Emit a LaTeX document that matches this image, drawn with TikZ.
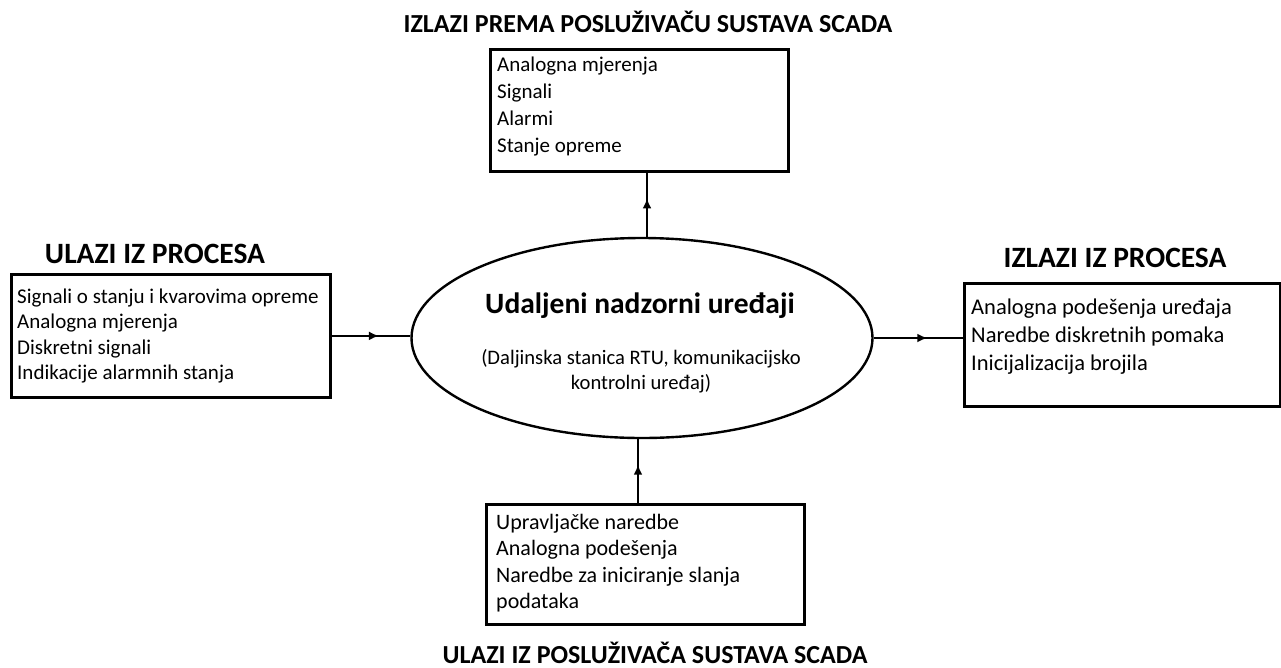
\documentclass[tikz,border=0pt]{standalone}
\usepackage{fontspec}
\setmainfont{Carlito}
\usetikzlibrary{arrows.meta,decorations.markings,shapes.geometric}
\begin{document}
\begin{tikzpicture}[x=1pt,y=-1pt,
  box/.style={draw,line width=2.8pt,inner sep=0,anchor=north west},
  txt/.style={inner sep=0,anchor=base west,align=left},
  ttl/.style={inner sep=0,anchor=base,font=\bfseries\fontsize{26}{30}\selectfont},
  sidettl/.style={inner sep=0,anchor=base,font=\bfseries\fontsize{29.5}{32}\selectfont},
  midarrow/.style={decoration={markings,mark=at position 0.6 with {\arrow{Latex[length=10pt,width=9pt]}}},postaction={decorate}},
  conn/.style={line width=2.6pt,midarrow}]
\useasboundingbox (0,0) rectangle (1281,667);
% boxes
\node[box,minimum width=319pt,minimum height=123pt] (lbox) at (10,273) {};
\node[box,minimum width=298pt,minimum height=122pt] (tbox) at (489,48) {};
\node[box,minimum width=316pt,minimum height=123pt] (rbox) at (963,282) {};
\node[box,minimum width=318pt,minimum height=120pt] (bbox) at (485,503) {};
\node[draw,ellipse,line width=2.4pt,inner sep=0,minimum width=461pt,minimum height=200pt] (ell) at (642,338) {};
% titles
\node[ttl] (ttop) at (648,32) {IZLAZI PREMA POSLUŽIVAČU SUSTAVA SCADA};
\node[sidettl] (tleft) at (155,263) {ULAZI IZ PROCESA};
\node[sidettl] (tright) at (1115,267) {IZLAZI IZ PROCESA};
\node[ttl] (tbot) at (655,663) {ULAZI IZ POSLUŽIVAČA SUSTAVA SCADA};
% box texts (base = last line)
\node[txt,font=\fontsize{21}{25.5}\selectfont] (lt) at (17,379.5) {Signali o stanju i kvarovima opreme\\Analogna mjerenja\\Diskretni signali\\Indikacije alarmnih stanja};
\node[txt,font=\fontsize{21}{27}\selectfont] (tt) at (497,152) {Analogna mjerenja\\Signali\\Alarmi\\Stanje opreme};
\node[txt,font=\fontsize{22.5}{28}\selectfont] (rt) at (971,370) {Analogna podešenja uređaja\\Naredbe diskretnih pomaka\\Inicijalizacija brojila};
\node[txt,font=\fontsize{22}{26.5}\selectfont] (bt) at (496,608.5) {Upravljačke naredbe\\Analogna podešenja\\Naredbe za iniciranje slanja\\podataka};
% ellipse texts
\node[inner sep=0,anchor=base,font=\bfseries\fontsize{29.5}{32}\selectfont] (et) at (640,313) {Udaljeni nadzorni uređaji};
\node[inner sep=0,anchor=base,align=center,font=\fontsize{20.6}{25}\selectfont] (es) at (641,389) {(Daljinska stanica RTU, komunikacijsko\\kontrolni uređaj)};
% connectors
\coordinate (tc) at (647,0);
\coordinate (bc) at (638,0);
\draw[conn] (lbox.east) -- (lbox.east -| ell.west);
\draw[conn] (ell.east) -- (ell.east -| rbox.west);
\draw[conn] (tc |- ell.north) -- (tc |- tbox.south);
\draw[conn] (bc |- bbox.north) -- (bc |- ell.south);
\end{tikzpicture}
\end{document}
